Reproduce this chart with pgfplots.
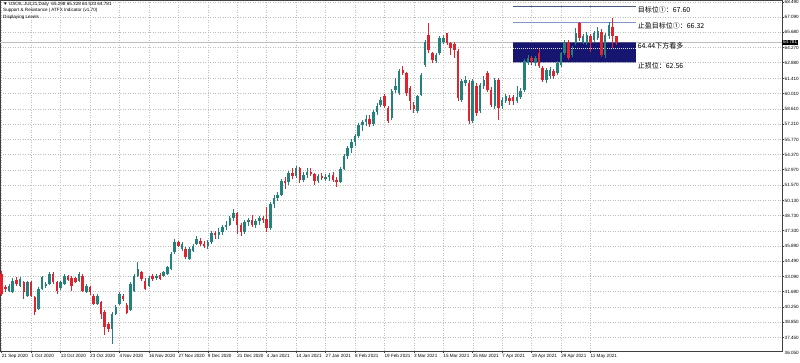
\documentclass[border=0pt]{standalone}
\usepackage{pgfplots}
\pgfplotsset{compat=1.18}
\usepackage{pgfplotstable}
\usepackage{fontspec}
\setmainfont{Liberation Sans}
\newfontfamily\cjk{Noto Sans CJK SC}
\definecolor{upc}{RGB}{35,130,125}
\definecolor{dnc}{RGB}{225,35,45}
\definecolor{navy}{RGB}{22,22,112}
\definecolor{lvlA}{RGB}{70,90,130}
\definecolor{lvlB}{RGB}{130,150,200}
\definecolor{gridc}{RGB}{190,190,190}

\pgfplotstableread{
x o h l c
2 41.79 42.40 41.64 42.26
3 41.64 42.93 41.55 42.72
5 42.26 43.02 42.10 42.87
7 41.33 42.72 41.18 42.56
10 40.11 42.10 40.01 41.95
11 41.95 43.18 41.89 43.02
12 42.19 42.62 42.01 42.41
13 42.41 43.48 42.32 43.33
16 42.01 42.72 41.89 42.56
17 42.41 43.33 42.32 43.18
21 42.72 43.48 42.62 43.33
23 41.70 42.41 41.58 42.26
26 40.57 41.49 40.41 41.33
30 38.26 39.80 36.88 39.64
31 39.64 40.41 39.49 40.26
32 40.57 41.64 40.41 41.49
35 39.95 42.56 39.86 42.41
36 41.79 43.33 41.70 43.18
37 43.18 44.41 43.08 43.79
40 42.26 43.12 42.16 42.93
42 42.93 43.33 42.81 43.18
44 43.18 43.64 43.05 43.48
45 43.33 44.10 43.24 43.94
46 43.79 45.33 43.73 45.17
47 45.33 46.56 45.17 46.25
49 45.64 46.25 45.48 46.10
51 44.71 45.79 44.65 45.64
52 45.48 46.10 45.39 45.94
53 46.10 46.86 46.00 46.56
56 45.9 46.5 45.6 46.3
57 46.3 47.3 46.1 47.1
59 46.9 47.6 46.6 47.2
60 47.2 47.9 46.9 47.7
61 47.7 48.2 47.4 47.9
62 47.9 48.7 47.8 48.5
63 48.5 49.3 48.2 49.0
66 47.2 48.3 47.0 48.1
67 48.1 48.5 47.8 48.3
69 47.9 48.4 47.6 48.2
70 48.2 48.7 47.9 48.5
73 47.6 50.0 47.4 49.8
74 49.8 50.6 49.4 50.4
75 50.4 50.9 50.1 50.6
76 50.6 52.1 50.5 51.9
78 51.8 52.9 51.6 52.7
80 52.4 53.3 52.2 53.1
82 52.0 52.8 51.8 52.5
83 52.5 53.1 52.2 52.8
86 51.9 52.6 51.7 52.4
88 52.2 52.6 51.9 52.3
89 52.3 52.7 51.9 52.5
92 51.8 53.2 51.7 53.0
93 53.0 54.4 52.9 54.2
94 54.2 55.2 54.0 55.0
95 55.0 55.8 54.5 55.5
96 55.5 56.3 55.2 56.1
97 56.1 57.3 55.9 57.1
98 57.1 57.6 56.6 57.4
99 57.4 58.0 57.0 57.7
101 57.2 58.5 57.0 58.3
102 58.3 59.1 58.0 58.9
103 58.99 59.70 58.80 59.46
106 57.77 60.40 57.60 60.23
107 60.32 61.45 60.10 60.69
108 60.07 62.30 59.90 62.07
113 58.38 59.90 58.20 59.76
114 59.92 61.90 59.80 61.76
115 62.68 64.99 62.50 64.83
118 62.99 63.80 62.80 63.60
119 63.76 65.30 63.60 65.14
120 64.83 65.45 64.60 65.14
125 59.46 61.40 59.20 61.15
126 60.99 61.60 60.70 61.30
128 57.46 61.40 57.30 61.15
130 58.38 61.00 58.20 60.84
131 60.69 61.60 60.40 61.30
134 58.84 61.50 58.60 61.30
136 58.84 59.70 58.60 59.46
137 59.30 60.00 59.10 59.76
140 59.30 60.69 59.10 59.70
141 59.70 60.50 59.50 60.23
142 60.38 63.20 60.20 63.00
143 62.84 63.60 62.70 63.30
145 62.84 63.50 62.60 63.30
148 61.30 62.40 61.00 62.22
149 61.60 62.50 61.40 62.22
151 61.92 63.00 61.70 62.84
152 62.68 63.90 62.50 63.76
153 63.76 65.00 63.60 64.83
155 63.60 64.40 63.40 64.07
156 64.68 66.06 64.50 65.60
158 64.83 65.50 64.60 65.30
159 64.68 65.70 64.50 65.45
161 64.99 65.80 64.80 65.60
162 65.14 66.20 65.00 65.76
164 63.60 65.60 63.30 65.45
165 65.30 66.60 65.10 66.37
}\upT

\pgfplotstableread{
x o h l c
0 43.33 43.64 41.33 41.49
1 42.10 42.32 41.70 41.95
4 42.81 43.02 42.26 42.41
6 42.56 42.72 41.03 41.64
8 42.56 42.72 41.18 41.33
9 41.18 41.33 39.49 39.80
14 43.33 43.48 42.41 42.56
15 42.62 42.72 41.49 41.79
18 43.12 43.24 42.72 42.81
19 42.93 43.12 41.79 42.26
20 42.93 43.02 42.50 42.62
22 43.18 43.33 41.70 41.79
24 42.10 42.26 41.40 41.64
25 41.33 41.49 40.41 40.57
27 40.72 40.87 39.18 39.64
28 39.80 39.95 37.65 38.42
29 38.72 38.88 37.96 38.26
33 41.33 41.49 40.87 41.03
34 40.47 40.66 39.64 39.74
38 43.48 43.64 42.72 42.87
39 42.72 42.93 41.89 41.95
41 43.18 43.33 42.72 42.87
43 43.24 43.42 42.75 42.87
48 46.25 46.40 45.79 45.94
50 45.64 45.79 44.71 44.87
54 46.4 46.7 45.9 46.1
55 46.1 46.4 45.7 45.9
58 47.1 47.3 46.6 46.9
64 49.0 49.1 47.0 47.9
65 47.9 48.0 46.8 47.2
68 48.3 48.8 47.7 47.9
71 48.5 48.7 48.0 48.4
72 48.4 49.5 47.2 47.6
77 51.9 52.3 51.2 51.8
79 52.7 53.1 52.1 52.4
81 53.1 53.2 51.7 52.0
84 52.8 53.1 52.4 52.6
85 52.6 52.7 51.6 51.9
87 52.4 52.7 52.0 52.2
90 52.5 52.8 51.8 52.0
91 52.0 52.3 51.4 51.8
100 57.7 58.0 56.9 57.2
104 59.83 60.00 58.70 58.84
105 58.69 58.90 57.30 57.46
109 62.22 62.53 61.70 61.92
110 61.92 62.00 59.76 60.07
111 60.53 60.70 58.54 59.30
112 58.99 59.20 58.23 58.60
116 65.45 66.52 63.76 64.07
117 63.76 63.90 62.84 63.14
121 65.60 65.66 64.50 64.68
122 64.68 64.80 63.60 64.22
123 64.62 64.80 63.30 64.07
124 63.91 64.10 59.30 59.61
127 60.99 61.30 57.20 57.46
129 60.69 61.00 57.90 58.23
132 61.91 62.07 60.20 60.38
133 60.38 60.60 58.80 58.99
135 61.30 61.50 57.61 58.69
138 59.61 59.90 59.00 59.30
139 59.70 59.90 59.00 59.30
144 63.30 63.50 62.70 62.99
146 63.76 64.13 62.40 62.53
147 62.38 62.60 61.10 61.30
150 62.07 62.30 61.40 61.60
154 64.83 65.00 63.14 63.30
157 66.52 66.68 64.90 65.14
160 65.30 65.50 63.90 64.68
163 65.76 66.00 63.40 63.60
166 66.22 66.98 64.22 65.30
167 65.30 65.33 64.53 64.78
}\dnT

\newcommand{\tickfont}{\fontsize{4.6}{5.5}\selectfont}

\begin{document}
\begin{tikzpicture}[x=1pt,y=1pt]
\useasboundingbox (0,-363) rectangle (800,0);
\fill[white] (0,-363) rectangle (800,0);
\begin{axis}[
  at={(0,0)}, anchor=north west,
  width=782pt, height=351pt, scale only axis,
  xmin=-0.46, xmax=212.04, ymin=36.2, ymax=68.674,
  clip=false,
  axis line style={draw=black!75, line width=0.6pt},
  grid=major,
  grid style={draw=gridc, line width=0.4pt, dash pattern=on 1pt off 1.5pt},
  xtick={0,8,...,160},
  xticklabels={21 Sep 2020,1 Oct 2020,13 Oct 2020,23 Oct 2020,4 Nov 2020,16 Nov 2020,27 Nov 2020,9 Dec 2020,21 Dec 2020,4 Jan 2021,14 Jan 2021,27 Jan 2021,8 Feb 2021,19 Feb 2021,3 Mar 2021,15 Mar 2021,25 Mar 2021,7 Apr 2021,19 Apr 2021,29 Apr 2021,11 May 2021},
  ytick={68.49,67.09,65.68,64.27,62.88,61.41,60.01,58.61,57.21,55.77,54.37,52.97,51.57,50.13,48.73,47.33,45.89,44.49,43.09,41.69,40.25,38.85,37.45},
  yticklabels={68.490,67.090,65.680,64.270,62.880,61.410,60.010,58.610,57.210,55.770,54.370,52.970,51.570,50.130,48.730,47.330,45.890,44.490,43.090,41.690,40.250,38.850,37.450},
  xtick pos=left, ytick pos=right,
  xticklabel pos=left, yticklabel pos=right,
  tick align=outside, major tick length=2pt,
  tick style={draw=black!75, line width=0.5pt},
  xticklabel style={font=\tickfont, anchor=north west, inner sep=0.5pt, xshift=-0.5pt, text height=3.4pt, text depth=1pt},
  yticklabel style={font=\tickfont, anchor=west, inner sep=0.5pt},
  xticklabel shift=0pt,
]
% current price line
\addplot[draw=black!25, line width=0.5pt, forget plot] coordinates {(-0.46,64.781) (212.04,64.781)};
% zone box
\addplot[fill=navy, draw=none, forget plot] coordinates {(139.0,62.91) (172.3,62.91) (172.3,64.76) (139.0,64.76) (139.0,62.91)};
\addplot[draw=white!85!navy, line width=0.4pt, dash pattern=on 1pt off 1pt, forget plot] coordinates {(139.0,64.21) (172.3,64.21)};
% level lines
\addplot[draw=lvlA, line width=0.7pt, forget plot] coordinates {(139.0,68.05) (172.3,68.05)};
\addplot[draw=lvlB, line width=0.7pt, forget plot] coordinates {(139.0,66.57) (172.3,66.57)};
% wicks
\addplot[draw=none, mark=none, forget plot,
  error bars/.cd, y dir=both, y explicit, error mark=none,
  error bar style={draw=upc, line width=0.75pt}]
  table[x=x, y expr={(\thisrow{h}+\thisrow{l})/2}, y error expr={(\thisrow{h}-\thisrow{l})/2}] {\upT};
\addplot[draw=none, mark=none, forget plot,
  error bars/.cd, y dir=both, y explicit, error mark=none,
  error bar style={draw=dnc, line width=0.75pt}]
  table[x=x, y expr={(\thisrow{h}+\thisrow{l})/2}, y error expr={(\thisrow{h}-\thisrow{l})/2}] {\dnT};
% bodies
\addplot[draw=none, mark=none, forget plot,
  error bars/.cd, y dir=both, y explicit, error mark=none,
  error bar style={draw=upc, line width=2.5pt}]
  table[x=x, y expr={(\thisrow{o}+\thisrow{c})/2}, y error expr={max(abs(\thisrow{c}-\thisrow{o})/2,0.03)}] {\upT};
\addplot[draw=none, mark=none, forget plot,
  error bars/.cd, y dir=both, y explicit, error mark=none,
  error bar style={draw=dnc, line width=2.5pt}]
  table[x=x, y expr={(\thisrow{o}+\thisrow{c})/2}, y error expr={max(abs(\thisrow{c}-\thisrow{o})/2,0.03)}] {\dnT};
% labels
\node[anchor=west, inner sep=0pt, font=\cjk\fontsize{7}{8}\selectfont] at (axis cs:172.8,67.75) {目标位①：67.60};
\node[anchor=west, inner sep=0pt, font=\cjk\fontsize{7}{8}\selectfont] at (axis cs:172.8,66.27) {止盈目标位①：66.32};
\node[anchor=west, inner sep=0pt, font=\cjk\fontsize{7}{8}\selectfont] at (axis cs:172.8,64.45) {64.44下方看多};
\node[anchor=west, inner sep=0pt, font=\cjk\fontsize{7}{8}\selectfont] at (axis cs:172.8,62.57) {止损位：62.56};
% current price tag
\node[anchor=west, fill=black, text=white, inner xsep=0.8pt, inner ysep=0.8pt, font=\tickfont] at (axis cs:212.04,64.781) {64.781};
\node[anchor=west, inner sep=0.5pt, font=\tickfont] at ([xshift=2pt]axis cs:212.04,36.05) {36.050};
% header text
\node[anchor=north west, inner sep=0pt, align=left, font=\fontsize{4.6}{6.5}\selectfont] at ([xshift=3pt,yshift=-1.8pt]rel axis cs:0,1) {▼ USOIL.JUL21,Daily\ \ 65.298 65.328 64.533 64.781\\Support \& Resistance | ATFX Indicator (v1.70)\\Displaying Levels};
\end{axis}
\end{tikzpicture}
\end{document}
